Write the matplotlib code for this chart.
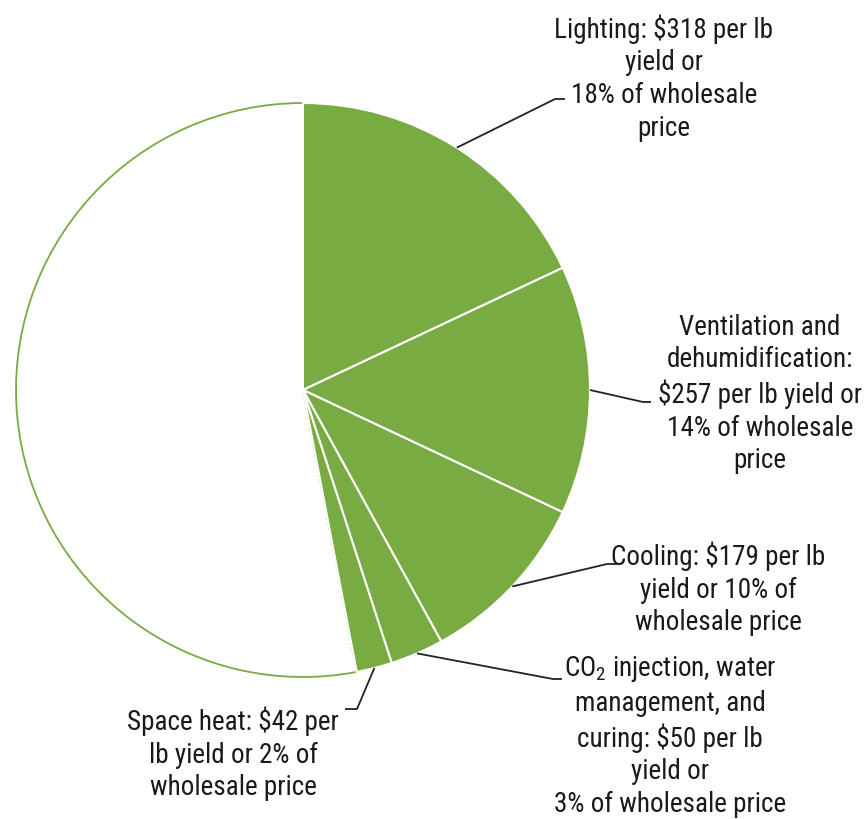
import numpy as np
import matplotlib.pyplot as plt

# share of wholesale price (%) per energy use, remainder is left blank
uses = ["Lighting", "Ventilation and dehumidification", "Cooling",
        "CO2 injection, water management, and curing", "Space heat"]
shares = [18, 14, 10, 3, 2]
remainder = 100 - sum(shares)
labels = [
    "Lighting: $318 per lb\nyield or\n18% of wholesale\nprice",
    "Ventilation and\ndehumidification:\n$257 per lb yield or\n14% of wholesale\nprice",
    "Cooling: $179 per lb\nyield or 10% of\nwholesale price",
    "CO$_2$ injection, water\nmanagement, and\ncuring: $50 per lb\nyield or\n3% of wholesale price",
    "Space heat: $42 per\nlb yield or 2% of\nwholesale price",
]

plt.rcParams['font.family'] = ['Roboto Condensed', 'Liberation Sans', 'DejaVu Sans']
plt.rcParams['mathtext.fontset'] = 'custom'
plt.rcParams['mathtext.rm'] = 'Roboto Condensed'
plt.rcParams['mathtext.it'] = 'Roboto Condensed'

green = "#78AB42"
center = (303, 429)
radius = 287

fig = plt.figure(figsize=(8.64, 8.2), dpi=100)
ax = fig.add_axes([0, 0, 1, 1])

wedges, _ = ax.pie(shares + [remainder], colors=[green] * len(shares) + ["white"],
                   startangle=90, counterclock=False, center=center, radius=radius,
                   wedgeprops=dict(edgecolor="white", linewidth=1.5))
wedges[-1].set_edgecolor(green)
wedges[-1].set_linewidth(1.3)
wedges[-1].set_zorder(0)

# label text positions, leader elbow and end points
text_pos = [(664, 742), (760, 426), (718, 231), (670, 84), (233, 66)]
elbows = [((555, 720), (565, 720)), ((643, 417), (651, 417)), ((607, 255), (617, 255)),
          ((553, 140), (562, 140)), ((357, 110), (345, 110))]

for w, lab, (tx, ty), (p1, p2) in zip(wedges, labels, text_pos, elbows):
    mid = np.deg2rad((w.theta1 + w.theta2) / 2)
    sx = center[0] + radius * np.cos(mid)
    sy = center[1] + radius * np.sin(mid)
    ax.plot([sx, p1[0], p2[0]], [sy, p1[1], p2[1]], color="#222222", lw=1.3,
            solid_capstyle="butt")
    ax.text(tx, ty, lab, ha="center", va="center", fontsize=19.5, color="#1a1a1a",
            linespacing=1.27)

ax.set_xlim(0, 864)
ax.set_ylim(0, 820)
ax.set_aspect("equal")
ax.axis("off")

plt.savefig("out.png", dpi=100)
